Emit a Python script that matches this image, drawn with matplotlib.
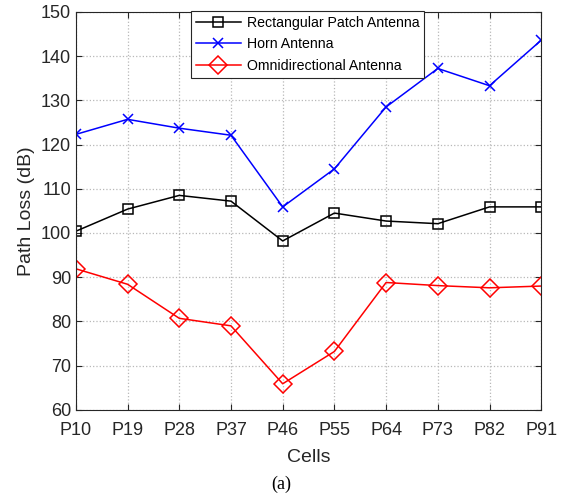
import matplotlib.pyplot as plt
import numpy as np

plt.rcParams['font.family'] = ['Liberation Sans', 'DejaVu Sans']

cells = ['P10', 'P19', 'P28', 'P37', 'P46', 'P55', 'P64', 'P73', 'P82', 'P91']
patch = [100.4, 105.4, 108.5, 107.2, 98.2, 104.5, 102.7, 102.1, 105.9, 105.9]
horn = [122.3, 125.7, 123.7, 122.1, 105.9, 114.5, 128.5, 137.2, 133.3, 143.6]
omni = [91.9, 88.4, 80.7, 79.0, 65.9, 73.2, 88.8, 88.1, 87.6, 88.0]

x = np.arange(len(cells))
txt = '#262626'

fig = plt.figure(figsize=(5.62, 4.95), dpi=100)
ax = fig.add_axes([0.135, 0.172, 0.828, 0.804])

ax.plot(x, patch, 'k-', marker='s', ms=7, mfc='none', mew=1.1, lw=1.1,
        label='Rectangular Patch Antenna')
ax.plot(x, horn, '-', color='#0000ff', marker='x', ms=7.5, mew=1.1, lw=1.1,
        label='Horn Antenna')
ax.plot(x, omni, '-', color='#ff0000', marker='D', ms=9, mfc='none', mew=1.1,
        lw=1.1, label='Omnidirectional Antenna')

ax.set_xlim(0, len(cells) - 1)
ax.set_ylim(60, 150)
ax.set_xticks(x)
ax.set_xticklabels(cells)
ax.set_yticks(np.arange(60, 151, 10))
ax.tick_params(direction='in', top=True, right=True, labelsize=13,
               colors=txt, length=4)
ax.tick_params(axis='x', pad=9)
ax.grid(True, linestyle=':', color='#b8b8b8', lw=0.9)
for s in ax.spines.values():
    s.set_color(txt)
    s.set_linewidth(0.8)

ax.set_xlabel('Cells', fontsize=14, color=txt, labelpad=7)
ax.set_ylabel('Path Loss (dB)', fontsize=14, color=txt, labelpad=4)

leg = ax.legend(loc='upper left', bbox_to_anchor=(0.247, 1.003), borderaxespad=0,
                fontsize=10.2, fancybox=False, edgecolor=txt, framealpha=1,
                handlelength=3.2, labelspacing=0.55, borderpad=0.35,
                handletextpad=0.4)
leg.get_frame().set_linewidth(0.8)

fig.text(0.5, 1 - 484 / 495, '(a)', ha='center', va='center', fontsize=13,
         family=['Liberation Serif', 'DejaVu Serif'])

fig.savefig('out.png', dpi=100)
